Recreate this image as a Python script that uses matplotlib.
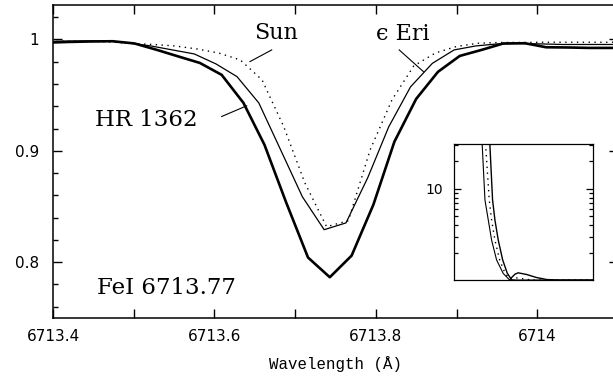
import matplotlib
matplotlib.use("Agg")
import matplotlib.pyplot as plt
from matplotlib.ticker import MultipleLocator, FixedLocator, FuncFormatter, NullFormatter, NullLocator

# Fe I 6713.77 line profiles (normalised flux vs wavelength in Angstrom)
wl_hr1362 = [6713.394, 6713.421, 6713.447, 6713.474, 6713.501, 6713.528, 6713.555,
             6713.582, 6713.609, 6713.636, 6713.662, 6713.689, 6713.716, 6713.743,
             6713.770, 6713.797, 6713.823, 6713.850, 6713.877, 6713.904, 6713.931,
             6713.958, 6713.985, 6714.011, 6714.038, 6714.065, 6714.092, 6714.119]
flux_hr1362 = [0.9972, 0.9978, 0.9982, 0.9984, 0.9964, 0.9908, 0.9848,
               0.9789, 0.9682, 0.9430, 0.9054, 0.8534, 0.8041, 0.7864,
               0.8058, 0.8516, 0.9081, 0.9466, 0.9709, 0.9852, 0.9906,
               0.9964, 0.9966, 0.9930, 0.9928, 0.9924, 0.9924, 0.9924]

wl_eri = [6713.387, 6713.414, 6713.440, 6713.467, 6713.494, 6713.521, 6713.548,
          6713.575, 6713.602, 6713.628, 6713.655, 6713.682, 6713.709, 6713.736,
          6713.763, 6713.790, 6713.816, 6713.843, 6713.870, 6713.897, 6713.924,
          6713.951, 6713.978, 6714.005, 6714.031, 6714.058, 6714.085, 6714.112]
flux_eri = [0.9982, 0.9985, 0.9987, 0.9987, 0.9969, 0.9942, 0.9906,
            0.9870, 0.9780, 0.9666, 0.9430, 0.9009, 0.8587, 0.8291,
            0.8352, 0.8758, 0.9215, 0.9574, 0.9785, 0.9906, 0.9942,
            0.9960, 0.9964, 0.9960, 0.9955, 0.9955, 0.9955, 0.9955]

wl_sun = [6713.390, 6713.417, 6713.444, 6713.471, 6713.497, 6713.524, 6713.551,
          6713.578, 6713.605, 6713.632, 6713.659, 6713.686, 6713.712, 6713.739,
          6713.766, 6713.793, 6713.820, 6713.847, 6713.874, 6713.900, 6713.927,
          6713.954, 6713.981, 6714.008, 6714.035, 6714.062, 6714.089, 6714.115]
flux_sun = [0.9982, 0.9984, 0.9982, 0.9978, 0.9964, 0.9955, 0.9942,
            0.9915, 0.9879, 0.9816, 0.9637, 0.9215, 0.8713, 0.8318,
            0.8372, 0.9009, 0.9457, 0.9762, 0.9879, 0.9937, 0.9966,
            0.9973, 0.9973, 0.9975, 0.9975, 0.9975, 0.9975, 0.9975]

# inset curves (arbitrary abscissa, logarithmic ordinate)
ins_x_a = [20.15, 22.2, 24.6, 27.0, 30.6, 35.4, 39.7, 45.0, 100.0]
ins_y_a = [31.5, 7.54, 4.55, 2.74, 1.66, 1.18, 1.013, 1.0, 1.0]
ins_x_b = [22.6, 25.3, 27.0, 29.4, 32.8, 36.8, 40.3, 44.0, 50.0, 56.0, 100.0]
ins_y_b = [31.5, 7.54, 4.55, 2.74, 1.66, 1.18, 1.03, 1.06, 1.03, 1.0, 1.0]
ins_x_c = [25.7, 27.7, 29.4, 31.8, 35.0, 38.3, 40.8, 43.9, 46.2, 52.3, 59.5, 66.8, 75.0, 100.0]
ins_y_c = [31.5, 7.54, 4.55, 2.74, 1.66, 1.19, 1.04, 1.16, 1.20, 1.15, 1.065, 1.013, 1.0, 1.0]

x_ticks = [6713.4, 6713.6, 6713.8, 6714.0]
y_ticks = [0.8, 0.9, 1.0]

serif = ['DejaVu Serif', 'DejaVu Sans']

fig = plt.figure(figsize=(6.13, 3.81), dpi=100)
ax = fig.add_axes([0.0865, 0.166, 0.9215, 0.821])

ax.plot(wl_sun, flux_sun, color='black', lw=1.0, ls=(0, (1, 3.2)))
ax.plot(wl_eri, flux_eri, color='black', lw=0.9)
ax.plot(wl_hr1362, flux_hr1362, color='black', lw=1.9)

ax.set_xlim(6713.4, 6714.1)
ax.set_ylim(0.75, 1.031)

ax.xaxis.set_major_locator(FixedLocator(x_ticks))
ax.xaxis.set_minor_locator(MultipleLocator(0.1))
ax.yaxis.set_major_locator(FixedLocator(y_ticks))
ax.yaxis.set_minor_locator(MultipleLocator(0.02))
fmt = FuncFormatter(lambda v, p: '%g' % round(v, 4))
ax.xaxis.set_major_formatter(fmt)
ax.yaxis.set_major_formatter(fmt)

ax.tick_params(which='both', direction='in', top=True, right=True, colors='black')
ax.tick_params(axis='x', which='major', length=6.2, width=1.0, pad=8)
ax.tick_params(axis='x', which='minor', length=6.2, width=1.0)
ax.tick_params(axis='y', which='major', length=6.5, width=1.0, pad=10)
ax.tick_params(axis='y', which='minor', length=3.6, width=1.0)
for lab in ax.get_xticklabels() + ax.get_yticklabels():
    lab.set_fontfamily('DejaVu Sans')
    lab.set_fontsize(11)
for s in ax.spines.values():
    s.set_linewidth(1.1)

ax.set_xlabel('Wavelength (Å)', family='Liberation Mono', fontsize=11.3, labelpad=9)

# labels with pointer lines
ax.text(6713.676, 1.0058, 'Sun', family=serif, fontsize=16, ha='center', va='center')
ax.plot([6713.644, 6713.671], [0.9801, 0.9906], color='black', lw=0.8)
ax.text(6713.833, 1.0049, 'ϵ Eri', family=serif, fontsize=16, ha='center', va='center')
ax.plot([6713.829, 6713.859], [0.9906, 0.9711], color='black', lw=0.8)
ax.text(6713.515, 0.928, 'HR 1362', family=serif, fontsize=16.5, ha='center', va='center')
ax.plot([6713.609, 6713.640], [0.9308, 0.9404], color='black', lw=0.8)
ax.text(6713.541, 0.777, 'FeI 6713.77', family=serif, fontsize=16.5, ha='center', va='center')

# inset
ins = fig.add_axes([0.741, 0.265, 0.2258, 0.357])
ins.plot(ins_x_a, ins_y_a, color='black', lw=0.8)
ins.plot(ins_x_b, ins_y_b, color='black', lw=1.0, ls=(0, (1, 3.2)))
ins.plot(ins_x_c, ins_y_c, color='black', lw=1.0)
ins.set_yscale('log')
ins.set_xlim(0, 100)
ins.set_ylim(1, 31)
ins.xaxis.set_major_locator(NullLocator())
ins.xaxis.set_minor_locator(NullLocator())
ins.yaxis.set_major_locator(FixedLocator([10]))
ins.yaxis.set_minor_locator(FixedLocator([2, 3, 4, 5, 6, 7, 8, 9, 20, 30]))
ins.yaxis.set_major_formatter(FuncFormatter(lambda v, p: '%g' % v))
ins.yaxis.set_minor_formatter(NullFormatter())
ins.tick_params(which='both', direction='in', left=True, right=True, colors='black')
ins.tick_params(axis='y', which='major', length=5, width=0.9, pad=8, labelsize=10)
ins.tick_params(axis='y', which='minor', length=3, width=0.9)
for lab in ins.get_yticklabels():
    lab.set_fontfamily('DejaVu Sans')
for s in ins.spines.values():
    s.set_linewidth(0.9)

fig.savefig('out.png', dpi=100)
